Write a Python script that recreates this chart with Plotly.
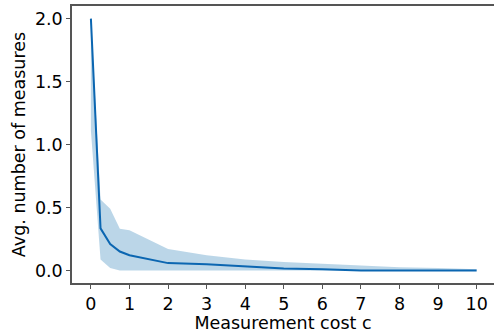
import plotly.graph_objects as go

cost = [0, 0.25, 0.5, 0.75, 1, 2, 3, 4, 5, 6, 7, 8, 9, 10]
mean_measures = [2.0, 0.334, 0.21, 0.15, 0.12, 0.058, 0.048, 0.034, 0.016, 0.01, 0.0, 0.0, 0.0, 0.0]
upper = [2.0, 0.564, 0.49, 0.33, 0.318, 0.17, 0.12, 0.087, 0.066, 0.053, 0.042, 0.026, 0.019, 0.01]
lower = [1.11, 0.087, 0.019, 0.0, 0.0, 0.0, 0.0, 0.0, 0.0, 0.0, 0.0, 0.0, 0.0, 0.0]

x_ticks = list(range(0, 11))
y_ticks = [0.0, 0.5, 1.0, 1.5, 2.0]

font = "DejaVu Sans"
axis_col = "#555555"
fs = 17.5

fig = go.Figure()
fig.add_trace(go.Scatter(x=cost, y=lower, mode="lines", line=dict(width=0),
                         showlegend=False, hoverinfo="skip"))
fig.add_trace(go.Scatter(x=cost, y=upper, mode="lines", line=dict(width=0),
                         fill="tonexty", fillcolor="rgba(31,119,180,0.3)",
                         showlegend=False, hoverinfo="skip"))
fig.add_trace(go.Scatter(x=cost, y=mean_measures, mode="lines",
                         line=dict(color="#0b66b1", width=2), showlegend=False))

fig.update_layout(
    width=494, height=333,
    margin=dict(l=72, r=0, t=6, b=50),
    paper_bgcolor="white", plot_bgcolor="white",
    font=dict(family=font, size=fs, color="black"),
    xaxis=dict(range=[-0.49, 10.45], tickvals=x_ticks, ticktext=[str(v) for v in x_ticks],
               automargin=False,
               showgrid=False, zeroline=False, showline=True, mirror=True,
               linecolor=axis_col, linewidth=1.5, ticks="outside", ticklen=4,
               tickcolor=axis_col, tickwidth=1,
               title=dict(text="Measurement cost c", standoff=3,
                          font=dict(family=font, size=fs))),
    yaxis=dict(range=[-0.1, 2.1], tickvals=y_ticks, ticktext=[f"{v:.1f}" for v in y_ticks],
               automargin=False,
               showgrid=False, zeroline=False, showline=True, mirror=False,
               linecolor=axis_col, linewidth=1.5, ticks="outside", ticklen=4,
               tickcolor=axis_col, tickwidth=1,
               title=dict(text="Avg. number of measures", standoff=5,
                          font=dict(family=font, size=fs))),
)

fig.write_html("out.html", config={"displayModeBar": False},
               post_script="document.body.style.margin='0';document.body.style.overflow='hidden';")
